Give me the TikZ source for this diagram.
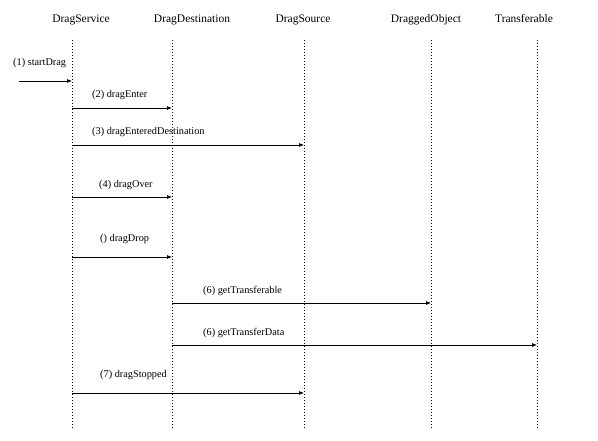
\documentclass[tikz,border=0pt]{standalone}
\usepackage{fontspec}
\setmainfont{Liberation Serif}
\usetikzlibrary{arrows.meta}
\begin{document}
\begin{tikzpicture}[x=1pt,y=-1pt,
  head/.style={font=\fontsize{11.5}{13}\selectfont, inner sep=0pt, anchor=base},
  lbl/.style={font=\fontsize{10.3}{12}\selectfont, inner sep=0pt, anchor=base west},
  life/.style={line width=0.6pt, dash pattern=on 0.8pt off 2.2pt},
  msg/.style={line width=0.7pt, -{Latex[length=5pt,width=4pt]}}]
\useasboundingbox (0,0) rectangle (598,440);
% headers
\node[head] (hS) at (81,22) {DragService};
\node[head] (hD) at (192,22) {DragDestination};
\node[head] (hR) at (303,22) {DragSource};
\node[head] (hO) at (426,22) {DraggedObject};
\node[head] (hT) at (524,22) {Transferable};
% lifelines
\foreach \n/\x in {S/72,D/172,R/304,O/431,T/537}{
  \coordinate (t\n) at (\x,40);
  \coordinate (b\n) at (\x,429);
  \draw[life] (t\n) -- (b\n);
}
% message endpoints
\coordinate (m1a) at (19,81);  \coordinate (m1b) at (72,81);
\coordinate (m2a) at (72,108); \coordinate (m2b) at (172,108);
\coordinate (m3a) at (72,145); \coordinate (m3b) at (304,145);
\coordinate (m4a) at (72,197); \coordinate (m4b) at (172,197);
\coordinate (m5a) at (72,257); \coordinate (m5b) at (172,257);
\coordinate (m6a) at (172,303); \coordinate (m6b) at (431,303);
\coordinate (m7a) at (172,345); \coordinate (m7b) at (537,345);
\coordinate (m8a) at (72,393); \coordinate (m8b) at (304,393);
\foreach \i in {1,...,8}{\draw[msg] (m\i a) -- (m\i b);}
% labels
\node[lbl] (l1) at (13,65) {(1) startDrag};
\node[lbl] (l2) at (92,97) {(2) dragEnter};
\node[lbl] (l3) at (92,134) {(3) dragEnteredDestination};
\node[lbl] (l4) at (99,187) {(4) dragOver};
\node[lbl] (l5) at (100,241) {() dragDrop};
\node[lbl] (l6) at (203,293) {(6) getTransferable};
\node[lbl] (l7) at (203,335) {(6) getTransferData};
\node[lbl] (l8) at (100,377) {(7) dragStopped};
\end{tikzpicture}
\end{document}
